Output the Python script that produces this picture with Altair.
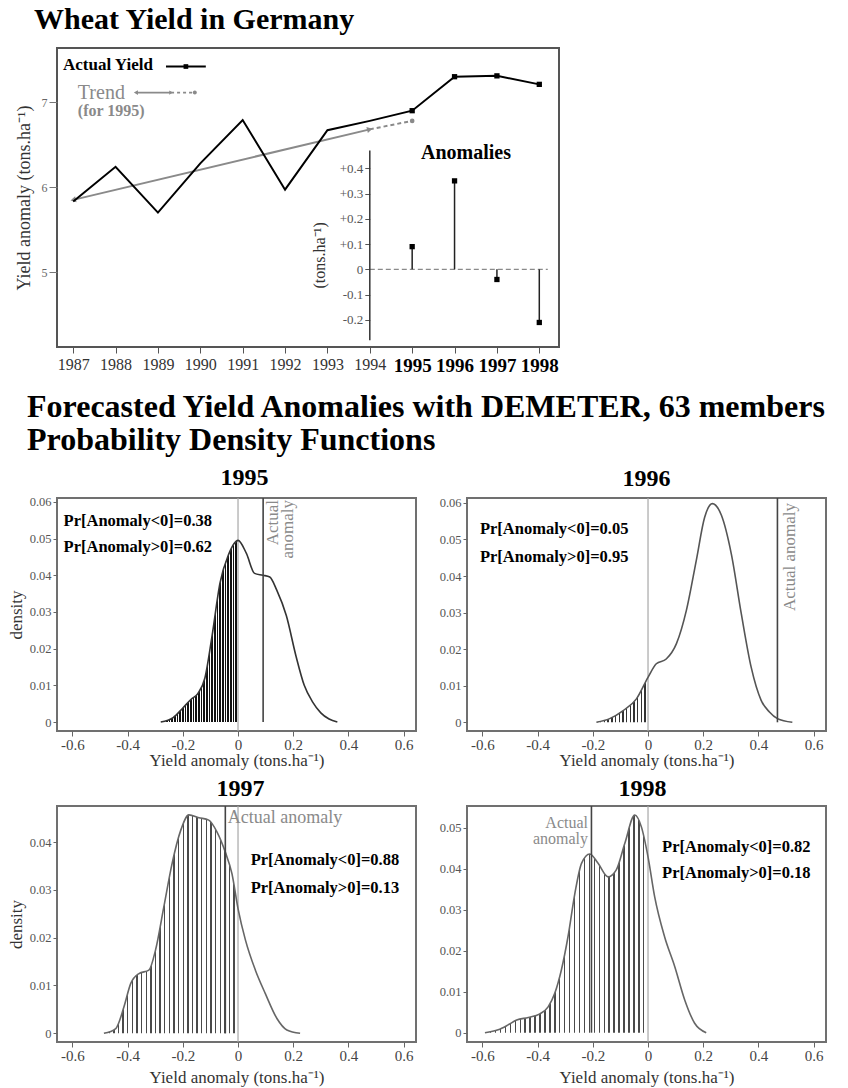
import altair as alt
import pandas as pd

FONT = "Liberation Serif"

# ---------------- data: top chart ----------------
years = [1987, 1988, 1989, 1990, 1991, 1992, 1993, 1994, 1995, 1996, 1997, 1998]
actual_yield = [5.83, 6.24, 5.70, 6.28, 6.79, 5.97, 6.67, 6.78, 6.90, 7.30, 7.31, 7.21]
marker_years = [1995, 1996, 1997, 1998]
trend_years = [1987, 1994]
trend_yield = [5.85, 6.68]
trend_1995_years = [1994, 1995]
trend_1995_yield = [6.68, 6.78]
anomaly_years = [1995, 1996, 1997, 1998]
anomaly_values = [0.09, 0.35, -0.04, -0.21]
main_ticks = [5, 6, 7]
inset_ticks = [-0.2, -0.1, 0.0, 0.1, 0.2, 0.3, 0.4]

# ---------------- data: probability density functions ----------------
x_1995 = [-0.28, -0.235, -0.2, -0.17, -0.145, -0.12, -0.095, -0.065, -0.035, 0.0, 0.03, 0.06,
          0.09, 0.115, 0.14, 0.175, 0.21, 0.24, 0.27, 0.30, 0.33, 0.36]
d_1995 = [0.0, 0.0012, 0.0038, 0.0062, 0.0078, 0.012, 0.023, 0.038, 0.0455, 0.0495, 0.046, 0.0405,
          0.040, 0.0395, 0.036, 0.029, 0.018, 0.010, 0.0055, 0.0025, 0.0008, 0.0]
x_1996 = [-0.187, -0.139, -0.09, -0.042, 0.0, 0.03, 0.066, 0.103, 0.139, 0.175, 0.205, 0.233,
          0.266, 0.302, 0.338, 0.374, 0.41, 0.44, 0.469, 0.523]
d_1996 = [0.0, 0.001, 0.0032, 0.0064, 0.0123, 0.016, 0.0173, 0.0215, 0.0306, 0.0443, 0.056, 0.0598,
          0.0566, 0.046, 0.0297, 0.015, 0.006, 0.0028, 0.001, 0.0]
x_1997 = [-0.486, -0.443, -0.413, -0.389, -0.359, -0.323, -0.299, -0.269, -0.239, -0.208, -0.178,
          -0.142, -0.106, -0.076, -0.046, -0.022, 0.0, 0.027, 0.063, 0.099, 0.141, 0.177, 0.225]
d_1997 = [0.0, 0.001, 0.0056, 0.0104, 0.0125, 0.0132, 0.0174, 0.0264, 0.0355, 0.0424, 0.0457,
          0.0451, 0.0446, 0.0421, 0.0379, 0.0334, 0.0261, 0.0195, 0.0132, 0.0083, 0.0031, 0.0007, 0.0]
x_1998 = [-0.591, -0.543, -0.507, -0.476, -0.434, -0.392, -0.362, -0.338, -0.314, -0.29, -0.265,
          -0.241, -0.211, -0.181, -0.145, -0.115, -0.084, -0.048, -0.024, 0.0, 0.024, 0.06, 0.097,
          0.133, 0.169, 0.211]
d_1998 = [0.0, 0.0007, 0.0019, 0.0031, 0.0037, 0.0046, 0.0063, 0.0096, 0.0153, 0.0234, 0.034,
          0.0413, 0.0436, 0.0413, 0.038, 0.0397, 0.0462, 0.0531, 0.0502, 0.0429, 0.0332, 0.0234,
          0.0161, 0.008, 0.0023, 0.0]
actual_anomaly = [0.091, 0.469, -0.046, -0.205]
pr_below = ["0.38", "0.05", "0.88", "0.82"]
pr_above = ["0.62", "0.95", "0.13", "0.18"]
pdf_x_ticks = [-0.6, -0.4, -0.2, 0.0, 0.2, 0.4, 0.6]

# ---------------- top chart ----------------
TOP_W, TOP_H = 502, 299
XS = alt.Scale(domain=[1986.618, 1998.465], nice=False, zero=False)
YS = alt.Scale(domain=[4.118, 7.638], nice=False, zero=False)
AS = alt.Scale(domain=[-0.307, 0.8755], nice=False, zero=False)
inset_offset = -(1994 - 1986.618) / (1998.465 - 1986.618) * TOP_W

x_axis_top = alt.Axis(
    values=years, format="d", tickSize=6, tickColor="#555", labelPadding=3, labelFont=FONT,
    labelFontSize={"condition": {"test": "datum.value >= 1995", "value": 19}, "value": 16},
    labelFontWeight={"condition": {"test": "datum.value >= 1995", "value": "bold"}, "value": "normal"},
    labelColor={"condition": {"test": "datum.value >= 1995", "value": "#000"}, "value": "#333"},
    domain=False, grid=False, title=None)
y_axis_top = alt.Axis(
    values=main_ticks, tickSize=8, tickColor="#777", labelPadding=2, labelFontSize=12,
    labelColor="#666", domain=False, grid=False, title="Yield anomaly (tons.ha\u207b\u00b9)",
    titleFontSize=18, titleFontWeight="normal", titleColor="#333", titlePadding=8)
inset_axis = alt.Axis(
    values=inset_ticks, orient="left", offset=inset_offset, tickSize=5, tickColor="#555",
    labelPadding=2, labelFontSize=13, labelColor="#555", domain=False, grid=False, title=None,
    labelExpr="datum.value == 0 ? '0' : (datum.value > 0 ? '+' : '-') + format(abs(datum.value), '.1f')")


def tx():
    return alt.X("x:Q", scale=XS, axis=x_axis_top)


def ty():
    return alt.Y("y:Q", scale=YS, axis=y_axis_top)


def ta():
    return alt.Y("a:Q", scale=AS, axis=inset_axis)


GRAY = "#8a8a8a"
df_actual = pd.DataFrame({"x": years, "y": actual_yield})
actual_line = alt.Chart(df_actual).mark_line(color="black", strokeWidth=2).encode(x=tx(), y=ty())
actual_pts = alt.Chart(df_actual[df_actual["x"].isin(marker_years)]).mark_point(
    shape="square", filled=True, color="black", size=28, opacity=1).encode(x=tx(), y=ty())
df_trend = pd.DataFrame({"x": trend_years, "y": trend_yield})
trend_line = alt.Chart(df_trend).mark_line(color=GRAY, strokeWidth=2).encode(x=tx(), y=ty())
trend_fc = alt.Chart(pd.DataFrame({"x": trend_1995_years, "y": trend_1995_yield})).mark_line(
    color=GRAY, strokeWidth=2, strokeDash=[4, 3]).encode(x=tx(), y=ty())
trend_dot = alt.Chart(pd.DataFrame({"x": trend_1995_years[1:], "y": trend_1995_yield[1:]})).mark_point(
    shape="circle", filled=True, color=GRAY, size=22, opacity=1).encode(x=tx(), y=ty())
arrow_l = alt.Chart(df_trend.iloc[[0]]).mark_point(
    shape="triangle-left", filled=True, color=GRAY, size=40, opacity=1, angle=346.6).encode(x=tx(), y=ty())
arrow_r = alt.Chart(df_trend.iloc[[1]]).mark_point(
    shape="triangle-right", filled=True, color=GRAY, size=40, opacity=1, angle=346.6).encode(x=tx(), y=ty())

# legend (drawn in data coordinates)
leg_actual_txt = alt.Chart(pd.DataFrame({"x": [1986.76], "y": [7.432], "t": ["Actual Yield"]})).mark_text(
    align="left", baseline="middle", fontSize=17, fontWeight="bold", color="black").encode(
    x=tx(), y=ty(), text="t:N")
leg_actual_line = alt.Chart(pd.DataFrame({"x": [1989.19, 1990.13], "y": [7.42, 7.42]})).mark_line(
    color="black", strokeWidth=2).encode(x=tx(), y=ty())
leg_actual_pt = alt.Chart(pd.DataFrame({"x": [1989.66], "y": [7.42]})).mark_point(
    shape="square", filled=True, color="black", size=22, opacity=1).encode(x=tx(), y=ty())
leg_trend_txt = alt.Chart(pd.DataFrame({"x": [1987.11], "y": [7.114], "t": ["Trend"]})).mark_text(
    align="left", baseline="middle", fontSize=20, color=GRAY).encode(x=tx(), y=ty(), text="t:N")
leg_trend_sub = alt.Chart(pd.DataFrame({"x": [1987.11], "y": [6.902], "t": ["(for 1995)"]})).mark_text(
    align="left", baseline="middle", fontSize=16, fontWeight="bold", color=GRAY).encode(
    x=tx(), y=ty(), text="t:N")
leg_trend_line = alt.Chart(pd.DataFrame({"x": [1988.48, 1989.31], "y": [7.113, 7.113]})).mark_line(
    color=GRAY, strokeWidth=1.6).encode(x=tx(), y=ty())
leg_trend_dash = alt.Chart(pd.DataFrame({"x": [1989.31, 1989.87], "y": [7.113, 7.113]})).mark_line(
    color=GRAY, strokeWidth=1.6, strokeDash=[3, 3]).encode(x=tx(), y=ty())
leg_trend_al = alt.Chart(pd.DataFrame({"x": [1988.48], "y": [7.113]})).mark_point(
    shape="triangle-left", filled=True, color=GRAY, size=22, opacity=1).encode(x=tx(), y=ty())
leg_trend_ar = alt.Chart(pd.DataFrame({"x": [1989.31], "y": [7.113]})).mark_point(
    shape="triangle-right", filled=True, color=GRAY, size=18, opacity=1).encode(x=tx(), y=ty())
leg_trend_dot = alt.Chart(pd.DataFrame({"x": [1989.87], "y": [7.113]})).mark_point(
    shape="circle", filled=True, color=GRAY, size=16, opacity=1).encode(x=tx(), y=ty())

main_layers = alt.layer(
    trend_line, trend_fc, trend_dot, arrow_l, arrow_r, actual_line, actual_pts,
    leg_actual_txt, leg_actual_line, leg_actual_pt, leg_trend_txt, leg_trend_sub,
    leg_trend_line, leg_trend_dash, leg_trend_al, leg_trend_ar, leg_trend_dot)

# inset: anomalies
df_anom = pd.DataFrame({"x": anomaly_years, "a": anomaly_values, "a0": [0.0] * len(anomaly_years)})
inset_zero = alt.Chart(pd.DataFrame({"x": [1994.0], "x2": [1998.2], "a": [0.0]})).mark_rule(
    color=GRAY, strokeWidth=1.3, strokeDash=[5, 3]).encode(x=tx(), x2="x2:Q", y=ta())
inset_stems = alt.Chart(df_anom).mark_rule(color="#222", strokeWidth=1.5).encode(x=tx(), y=ta(), y2="a0:Q")
inset_pts = alt.Chart(df_anom).mark_point(shape="square", filled=True, color="black", size=28,
                                          opacity=1).encode(x=tx(), y=ta())
inset_axis_line = alt.Chart(pd.DataFrame({"x": [1994.0], "a": [-0.28], "a2": [0.47]})).mark_rule(
    color="#333", strokeWidth=1.5).encode(x=tx(), y=ta(), y2="a2:Q")
inset_title = alt.Chart(pd.DataFrame({"x": [1996.27], "a": [0.4585], "t": ["Anomalies"]})).mark_text(
    align="center", baseline="middle", fontSize=20, fontWeight="bold", color="black").encode(
    x=tx(), y=ta(), text="t:N")
inset_ytitle = alt.Chart(pd.DataFrame({"x": [1992.816], "a": [0.0553], "t": ["(tons.ha\u207b\u00b9)"]})).mark_text(
    align="center", baseline="middle", fontSize=16, angle=270, color="#333").encode(
    x=tx(), y=ta(), text="t:N")
inset_layers = alt.layer(inset_zero, inset_axis_line, inset_stems, inset_pts, inset_title, inset_ytitle)

top = alt.layer(main_layers, inset_layers).resolve_scale(y="independent").properties(
    width=TOP_W, height=TOP_H,
    view=alt.ViewBackground(stroke="#555", strokeWidth=2),
    title=alt.TitleParams("Wheat Yield in Germany", anchor="start", frame="group", dx=-23,
                          fontSize=30, fontWeight="bold", color="black", font=FONT, offset=13))

# section heading carried by an invisible 1x1 view
section = alt.Chart(pd.DataFrame({"v": [0]})).mark_point(opacity=0).encode(
    x=alt.X("v:Q", axis=None), y=alt.Y("v:Q", axis=None)).properties(
    width=1, height=1, view=alt.ViewBackground(stroke="transparent"),
    title=alt.TitleParams(
        ["Forecasted Yield Anomalies with DEMETER, 63 members", "Probability Density Functions"],
        anchor="start", frame="group", dx=-30, dy=37, offset=0, fontSize=32, lineHeight=33,
        fontWeight="bold", color="black", font=FONT))

# ---------------- density panels ----------------
PX_DOM = [-0.656, 0.645]
PW = 359
PX_PER = PW / (PX_DOM[1] - PX_DOM[0])


def stripes(width_px, period, lw, color):
    n = max(1, int(round(width_px / period)))
    f = lw / period
    stops = []
    for k in range(n):
        a, b, c = k / n, (k + f) / n, (k + 1) / n
        stops += [alt.GradientStop(color=color, offset=round(a, 5)),
                  alt.GradientStop(color=color, offset=round(b, 5)),
                  alt.GradientStop(color="white", offset=round(b, 5)),
                  alt.GradientStop(color="white", offset=round(c, 5))]
    return alt.LinearGradient(gradient="linear", stops=stops, x1=0, x2=1, y1=0, y2=0)


def panel(year, xs, ds, actual, pb, pa, height, ydom, yvals, ytitle, hatch, line_color,
          pr_x, pr_y, label_text, label_kw, label_pos, title_dx, title_offset, xtitle_pad):
    xscale = alt.Scale(domain=PX_DOM, nice=False, zero=False)
    yscale = alt.Scale(domain=ydom, nice=False, zero=False)
    xaxis = alt.Axis(
        values=pdf_x_ticks, tickSize=5, tickColor="#666", labelPadding=1, labelFontSize=15,
        labelColor="#444", domain=False, grid=False,
        labelExpr="datum.value == 0 ? '0' : (datum.value < 0 ? '-' : '') + format(abs(datum.value), '.1f')",
        title="Yield anomaly (tons.ha\u207b\u00b9)", titleFontSize=17, titleFontWeight="normal",
        titleColor="#333", titlePadding=xtitle_pad)
    yaxis = alt.Axis(
        values=yvals, tickSize=4, tickColor="#666", labelPadding=2, labelFontSize=12.5,
        labelColor="#555", domain=False, grid=False,
        labelExpr="datum.value == 0 ? '0' : format(datum.value, '.2f')",
        title=ytitle, titleFontSize=17, titleFontWeight="normal", titleColor="#333", titlePadding=4)

    def X():
        return alt.X("x:Q", scale=xscale, axis=xaxis)

    def Y():
        return alt.Y("d:Q", scale=yscale, axis=yaxis)

    df = pd.DataFrame({"x": xs, "d": ds})
    neg = df[df["x"] <= 0]
    width_px = -neg["x"].min() * PX_PER
    color, period, lw = hatch
    area = alt.Chart(neg).mark_area(
        fill=stripes(width_px, period, lw, color), strokeWidth=0, interpolate="monotone").encode(
        x=X(), y=Y(), y2=alt.datum(0))
    zero = alt.Chart(pd.DataFrame({"x": [0.0]})).mark_rule(color="#a8a8a8", strokeWidth=1.2).encode(x=X())
    curve = alt.Chart(df).mark_line(color=line_color, strokeWidth=1.6, interpolate="monotone").encode(
        x=X(), y=Y())
    act = alt.Chart(pd.DataFrame({"x": [actual], "d": [0.0], "d2": [ydom[1]]})).mark_rule(
        color="#444", strokeWidth=1.6).encode(x=X(), y=Y(), y2="d2:Q")
    pr = alt.Chart(pd.DataFrame({
        "x": [pr_x, pr_x], "d": pr_y,
        "t": ["Pr[Anomaly<0]=" + pb, "Pr[Anomaly>0]=" + pa]})).mark_text(
        align="left", baseline="middle", fontSize=16.5, fontWeight="bold", color="black").encode(
        x=X(), y=Y(), text="t:N")
    lab = alt.Chart(pd.DataFrame({"x": [label_pos[0]], "d": [label_pos[1]]})).mark_text(
        text=label_text, color="#8a8a8a", **label_kw).encode(x=X(), y=Y())
    return alt.layer(area, zero, curve, act, pr, lab).properties(
        width=PW, height=height,
        view=alt.ViewBackground(stroke="#707070", strokeWidth=2),
        title=alt.TitleParams(str(year), fontSize=24, fontWeight="bold", color="black", font=FONT,
                              dx=title_dx, offset=title_offset))


p95 = panel(1995, x_1995, d_1995, actual_anomaly[0], pr_below[0], pr_above[0], 233,
            [-0.00245, 0.06104], [0, 0.01, 0.02, 0.03, 0.04, 0.05, 0.06], "density",
            ("#111111", 2.7, 1.5), "#333", -0.632, [0.05485, 0.0476],
            ["Actual", "anomaly"], dict(angle=270, align="right", baseline="top", fontSize=17, lineHeight=15),
            (0.097, 0.0605), 8, 6, 0)
p96 = panel(1996, x_1996, d_1996, actual_anomaly[1], pr_below[1], pr_above[1], 233,
            [-0.00238, 0.06133], [0, 0.01, 0.02, 0.03, 0.04, 0.05, 0.06], None,
            ("#333333", 3.8, 1.4), "#555", -0.609, [0.05286, 0.0452],
            "Actual anomaly", dict(angle=270, align="right", baseline="top", fontSize=17),
            (0.4855, 0.05997), 0, 6, 0)
p97 = panel(1997, x_1997, d_1997, actual_anomaly[2], pr_below[2], pr_above[2], 236,
            [-0.00182, 0.04755], [0, 0.01, 0.02, 0.03, 0.04], "density",
            ("#4a4a4a", 4.7, 1.4), "#666", 0.046, [0.03626, 0.03046],
            "Actual anomaly", dict(align="left", baseline="middle", fontSize=18),
            (-0.037, 0.04504), 4, 4, 6)
p98 = panel(1998, x_1998, d_1998, actual_anomaly[3], pr_below[3], pr_above[3], 236,
            [-0.00227, 0.05529], [0, 0.01, 0.02, 0.03, 0.04, 0.05], None,
            ("#4a4a4a", 4.9, 1.4), "#666", 0.051, [0.04522, 0.03888],
            ["Actual", "anomaly"], dict(align="right", baseline="middle", fontSize=16, lineHeight=16),
            (-0.2174, 0.0512), -4, 4, 6)

grid = alt.concat(p95, p96, p97, p98, columns=2, spacing={"row": 75, "column": 51}, bounds="flush")

chart = alt.vconcat(top, section, grid, spacing=75, bounds="flush").properties(
    autosize=alt.AutoSizeParams(type="none"),
    padding={"left": 57, "top": 48, "right": 791, "bottom": 1040},
).configure(font=FONT).configure_view(stroke="#666", strokeWidth=2).configure_axis(
    labelFont=FONT, titleFont=FONT).configure_title(font=FONT).configure_text(font=FONT)

chart.save("out.html", embed_options={"renderer": "svg", "actions": False})
